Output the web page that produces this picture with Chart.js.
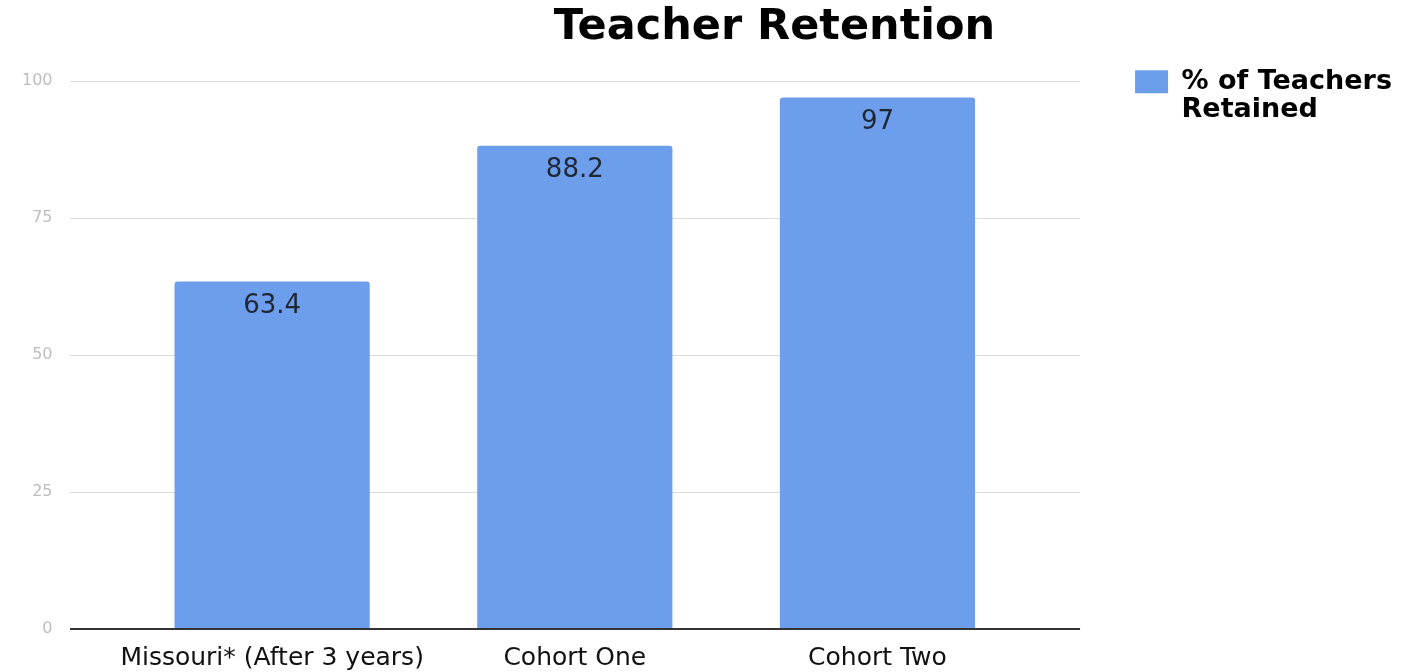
<!DOCTYPE html>
<html><head><meta charset="utf-8">
<script src="https://cdn.jsdelivr.net/npm/chart.js@4.4.1/dist/chart.umd.min.js"></script>
<style>html,body{margin:0;padding:0;background:#fff;}#wrap{width:1412px;height:672px;position:relative;}</style>
</head><body><div id="wrap"><canvas id="c" width="1412" height="672"></canvas></div>
<script>
const categories = ["Missouri* (After 3 years)", "Cohort One", "Cohort Two"];
const retained = [63.4, 88.2, 97];
const yTicks = [0, 25, 50, 75, 100];
const seriesLabel = ["% of Teachers", "Retained"];
const chartTitle = "Teacher Retention";

const points = categories.map((c, i) => ({x: i, y: retained[i]}));

const shiftTitle = {
  id: 'shiftTitle',
  afterLayout(chart) {
    const t = chart.titleBlock;
    if (t) { t.left += 71; t.right += 71; }
  }
};
const valueLabels = {
  id: 'valueLabels',
  afterDatasetsDraw(chart) {
    const ctx = chart.ctx;
    const meta = chart.getDatasetMeta(0);
    ctx.save();
    ctx.font = '26px "DejaVu Sans"';
    ctx.fillStyle = '#1f2733';
    ctx.textAlign = 'center';
    ctx.textBaseline = 'middle';
    meta.data.forEach((el, i) => {
      ctx.fillText(String(retained[i]), el.x, el.y + 25);
    });
    ctx.restore();
  }
};

new Chart(document.getElementById('c'), {
  type: 'bar',
  data: {
    datasets: [{
      label: seriesLabel,
      data: points,
      backgroundColor: '#6d9eeb',
      borderWidth: 0,
      borderRadius: {topLeft: 3, topRight: 3, bottomLeft: 0, bottomRight: 0},
      borderSkipped: 'bottom',
      barPercentage: 0.645,
      categoryPercentage: 1
    }]
  },
  options: {
    responsive: false,
    animation: false,
    layout: {padding: {left: 5, right: 10, top: 0, bottom: -15}},
    plugins: {
      title: {
        display: true,
        text: chartTitle,
        color: '#000',
        font: {family: 'DejaVu Sans', size: 43, weight: 'bold', lineHeight: 1.2},
        padding: {top: 2, bottom: 27.4}
      },
      legend: {
        display: true,
        position: 'right',
        align: 'start',
        title: {display: true, text: ' ', font: {size: 1}, padding: {top: 12, bottom: 0}},
        labels: {
          color: '#000',
          font: {family: 'DejaVu Sans', size: 27, weight: 'bold', lineHeight: 1.05},
          boxWidth: 33,
          boxHeight: 23,
          padding: 55
        }
      },
      tooltip: {enabled: false}
    },
    scales: {
      x: {
        type: 'linear',
        offset: false,
        min: -0.6694,
        max: 2.6694,
        afterBuildTicks(axis) { axis.ticks = categories.map((c, i) => ({value: i})); },
        ticks: {
          callback: (v) => categories[v],
          color: '#111',
          font: {family: 'DejaVu Sans', size: 25, lineHeight: 1.2},
          padding: 14,
          maxRotation: 0,
          autoSkip: false
        },
        grid: {display: false, drawTicks: false},
        border: {display: false}
      },
      y: {
        min: 0,
        max: 100,
        afterBuildTicks(axis) { axis.ticks = yTicks.map(v => ({value: v})); },
        ticks: {
          color: '#bdbdbd',
          font: {family: 'DejaVu Sans', size: 16},
          padding: 17
        },
        grid: {
          color: (ctx) => ctx.tick && ctx.tick.value === 0 ? '#333333' : '#dddddd',
          lineWidth: (ctx) => ctx.tick && ctx.tick.value === 0 ? 2 : 1,
          drawTicks: false
        },
        border: {display: false}
      }
    }
  },
  plugins: [shiftTitle, valueLabels]
});
</script></body></html>
